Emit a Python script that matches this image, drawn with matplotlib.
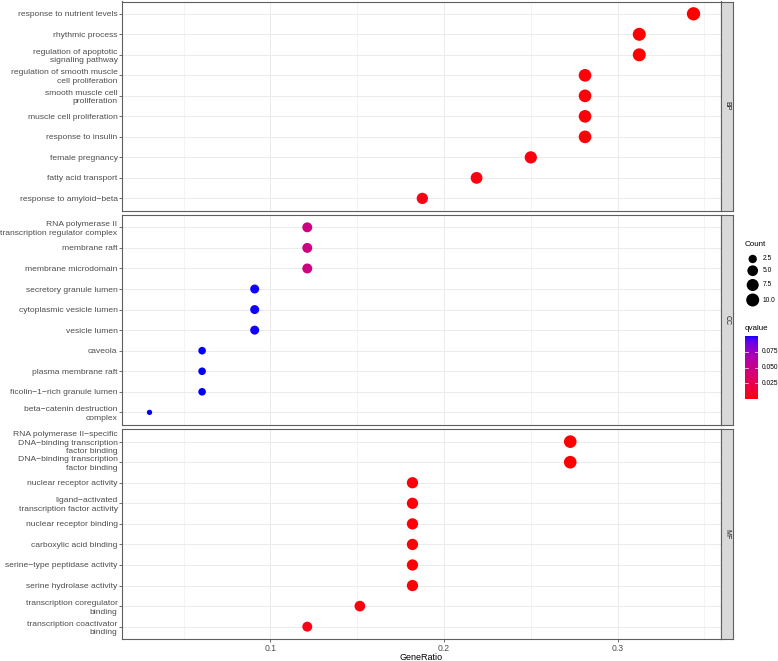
import numpy as np
import matplotlib
matplotlib.use("Agg")
import matplotlib.pyplot as plt
from matplotlib.colors import ListedColormap

plt.rcParams['font.family'] = ['Liberation Sans', 'DejaVu Sans']

# ── Data (top term first) ─────────────────────────────────────────────────────

bp_terms = ["response to nutrient levels", "rhythmic process",
            "regulation of apoptotic\nsignaling pathway",
            "regulation of smooth muscle\ncell proliferation",
            "smooth muscle cell\nproliferation", "muscle cell proliferation",
            "response to insulin", "female pregnancy", "fatty acid transport",
            "response to amyloid\u2212beta"]
bp_ratio = ["11/32", "10/32", "10/32", "9/32", "9/32", "9/32", "9/32",
            "8/32", "7/32", "6/32"]
bp_q = [0.0005, 0.001, 0.001, 0.002, 0.002, 0.002, 0.002, 0.003, 0.003, 0.004]

cc_terms = ["RNA polymerase II\ntranscription regulator complex", "membrane raft",
            "membrane microdomain", "secretory granule lumen",
            "cytoplasmic vesicle lumen", "vesicle lumen", "caveola",
            "plasma membrane raft", "ficolin\u22121\u2212rich granule lumen",
            "beta\u2212catenin destruction\ncomplex"]
cc_ratio = ["4/33", "4/33", "4/33", "3/33", "3/33", "3/33", "2/33", "2/33",
            "2/33", "1/33"]
cc_q = [0.047, 0.047, 0.047, 0.0995, 0.0995, 0.0995, 0.100, 0.100, 0.100, 0.100]

mf_terms = ["RNA polymerase II\u2212specific\nDNA\u2212binding transcription\nfactor binding",
            "DNA\u2212binding transcription\nfactor binding",
            "nuclear receptor activity",
            "ligand\u2212activated\ntranscription factor activity",
            "nuclear receptor binding", "carboxylic acid binding",
            "serine\u2212type peptidase activity", "serine hydrolase activity",
            "transcription coregulator\nbinding",
            "transcription coactivator\nbinding"]
mf_ratio = ["9/33", "9/33", "6/33", "6/33", "6/33", "6/33", "6/33", "6/33",
            "5/33", "4/33"]
mf_q = [0.001, 0.001, 0.002, 0.002, 0.002, 0.002, 0.002, 0.002, 0.003, 0.004]

count_breaks = [2.5, 5.0, 7.5, 10.0]
q_breaks = [0.025, 0.050, 0.075]


# ── Helpers ───────────────────────────────────────────────────────────────────

W, H = 778, 661


def px_box(x0, y0, x1, y1):
    return [x0 / W, 1 - y1 / H, (x1 - x0) / W, (y1 - y0) / H]


def parse_ratio(r):
    k, n = r.split("/")
    return int(k), int(k) / int(n)


def dot_area(count):
    d_px = 5.3 + 3.34 * np.log(np.asarray(count, float))
    return (d_px * 0.72) ** 2


def _srgb_to_lab(rgb):
    rgb = np.asarray(rgb, float)
    lin = np.where(rgb <= 0.04045, rgb / 12.92, ((rgb + 0.055) / 1.055) ** 2.4)
    M = np.array([[0.4124, 0.3576, 0.1805],
                  [0.2126, 0.7152, 0.0722],
                  [0.0193, 0.1192, 0.9505]])
    xyz = M @ lin / np.array([0.95047, 1.0, 1.08883])
    f = np.where(xyz > 0.008856, np.cbrt(xyz), 7.787 * xyz + 16 / 116)
    return np.array([116 * f[1] - 16, 500 * (f[0] - f[1]), 200 * (f[1] - f[2])])


def _lab_to_srgb(lab):
    L, a, b = lab
    fy = (L + 16) / 116
    fx = fy + a / 500
    fz = fy - b / 200
    f = np.array([fx, fy, fz])
    xyz = np.where(f ** 3 > 0.008856, f ** 3, (f - 16 / 116) / 7.787)
    xyz = xyz * np.array([0.95047, 1.0, 1.08883])
    Minv = np.array([[3.2406, -1.5372, -0.4986],
                     [-0.9689, 1.8758, 0.0415],
                     [0.0557, -0.2040, 1.0570]])
    lin = np.clip(Minv @ xyz, 0, 1)
    rgb = np.where(lin <= 0.0031308, 12.92 * lin, 1.055 * lin ** (1 / 2.4) - 0.055)
    return np.clip(rgb, 0, 1)


# red -> blue gradient interpolated in Lab, like ggplot's continuous colour scale
lo, hi = _srgb_to_lab([1, 0, 0]), _srgb_to_lab([0, 0, 1])
cmap = ListedColormap([_lab_to_srgb(lo + t * (hi - lo)) for t in np.linspace(0, 1, 256)])

all_q = bp_q + cc_q + mf_q
vmin, vmax = min(all_q), max(all_q)

all_x = [parse_ratio(r)[1] for r in bp_ratio + cc_ratio + mf_ratio]
span = max(all_x) - min(all_x)
xlim = (min(all_x) - 0.05 * span, max(all_x) + 0.05 * span)


# ── Figure ────────────────────────────────────────────────────────────────────

fig = plt.figure(figsize=(7.78, 6.61), dpi=100)

panels = [("BP", bp_terms, bp_ratio, bp_q, 1.5, 210.7),
          ("CC", cc_terms, cc_ratio, cc_q, 215.0, 424.7),
          ("MF", mf_terms, mf_ratio, mf_q, 429.3, 639.0)]

GRID = "#EBEBEB"
DARK = "#333333"
BORDER = "#5E5E5E"

for i, (name, terms, ratio, q, top, bot) in enumerate(panels):
    ax = fig.add_axes(px_box(122.3, top, 720.7, bot))
    counts = [parse_ratio(r)[0] for r in ratio]
    xs = [parse_ratio(r)[1] for r in ratio]
    ys = np.arange(len(terms))
    ax.scatter(xs, ys, s=dot_area(counts), c=q, cmap=cmap, vmin=vmin, vmax=vmax,
               edgecolors="none", zorder=3)

    ax.set_xlim(*xlim)
    ax.set_ylim(len(terms) - 0.4, -0.6)
    ax.set_yticks(ys)
    ax.set_yticklabels(terms, fontsize=6.1, color="#4D4D4D", linespacing=1.3)
    ax.set_xticks([0.1, 0.2, 0.3])
    ax.set_xticks([0.05, 0.15, 0.25, 0.35], minor=True)
    ax.grid(True, which="major", color=GRID, linewidth=0.7, zorder=0)
    ax.grid(True, which="minor", axis="x", color=GRID, linewidth=0.4, zorder=0)
    ax.set_axisbelow(True)
    ax.tick_params(axis="both", which="major", length=2.2, width=0.5,
                   color=DARK, pad=1.2)
    ax.tick_params(axis="x", which="minor", length=0)
    for sp in ax.spines.values():
        sp.set_color(BORDER)
        sp.set_linewidth(0.8)

    if i < len(panels) - 1:
        ax.tick_params(axis="x", which="major", length=0, labelbottom=False)
    else:
        ax.set_xticklabels(["0.1", "0.2", "0.3"], fontsize=6.2, color="#4D4D4D")
        ax.set_xlabel("GeneRatio", fontsize=6.5, labelpad=0.5)

    sax = fig.add_axes(px_box(720.7, top, 732.7, bot))
    sax.set_facecolor("#D9D9D9")
    sax.set_xticks([])
    sax.set_yticks([])
    for sp in sax.spines.values():
        sp.set_color(BORDER)
        sp.set_linewidth(0.8)
    sax.text(0.5, 0.5, name, rotation=270, ha="center", va="center",
             fontsize=5, color="#1A1A1A", transform=sax.transAxes)

# ── Legends (pixel coordinates) ───────────────────────────────────────────────

lax = fig.add_axes([0, 0, 1, 1], zorder=-1)
lax.set_xlim(0, W)
lax.set_ylim(H, 0)
lax.axis("off")

lax.text(745, 245, "Count", fontsize=5.8, ha="left", va="center")
for c, y in zip(count_breaks, [259, 270.7, 285, 300]):
    lax.scatter([752.7], [y], s=dot_area(c), color="black", edgecolors="none")
    lax.text(763, y, f"{c:.1f}", fontsize=4.8, ha="left", va="center")

lax.text(745, 329, "qvalue", fontsize=5.8, ha="left", va="center")
cax = fig.add_axes(px_box(745, 336, 757.7, 399))
grad = np.linspace(vmin, vmax, 256)[:, None]
cax.imshow(grad, aspect="auto", cmap=cmap, vmin=vmin, vmax=vmax,
           origin="lower", extent=[0, 1, vmin, vmax])
cax.set_xlim(0, 1)
cax.set_ylim(vmin, vmax)
cax.set_axis_off()
for v in q_breaks:
    cax.plot([0, 0.2], [v, v], color="white", linewidth=0.5)
    cax.plot([0.8, 1], [v, v], color="white", linewidth=0.5)
    cax.text(1.35, v, f"{v:.3f}", fontsize=4.8, ha="left", va="center")

fig.savefig("out.png", dpi=100)
plt.close(fig)
